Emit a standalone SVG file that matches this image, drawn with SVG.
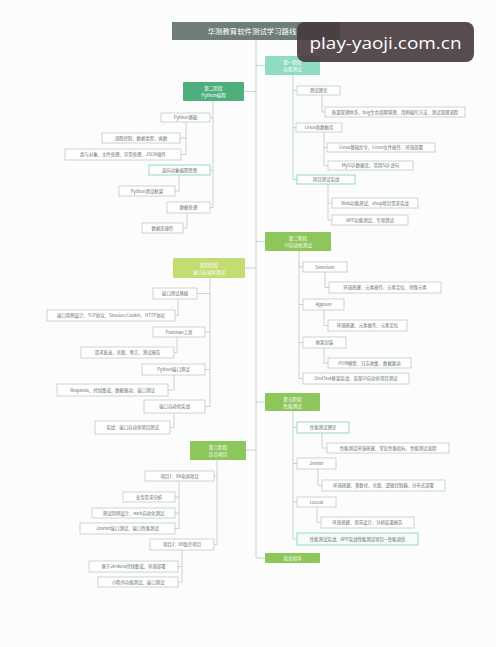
<svg xmlns="http://www.w3.org/2000/svg" width="496" height="647" viewBox="0 0 496 647">
<style>
.bg{fill:#fbfcfb}
.b{fill:#fdfefd;stroke:#bfcdbf;stroke-width:0.8}
.bt{fill:#fdfefd;stroke:#8fd3c4;stroke-width:0.9}
.t{font-family:"Noto Sans CJK SC","Noto Sans",sans-serif;font-size:4.4px;fill:#6a6f6c;text-anchor:middle}
.st{font-family:"Noto Sans CJK SC","Noto Sans",sans-serif;font-size:4.6px;fill:#ffffff;text-anchor:middle}
.l{fill:none;stroke:#bccbbd;stroke-width:0.8}
.lt{fill:none;stroke:#9fd8c9;stroke-width:0.8}
.g1{fill:#8fdcc2}
.g2{fill:#4daf7c}
.g3{fill:#8dc65a}
.g4{fill:#c3dd73}
</style>
<rect class="bg" x="0" y="0" width="496" height="647"/>

<g id="connectors">
<path class="l" d="M256,40 V558 H265"/>
<path class="lt" d="M256,65.5 H265"/>
<path class="lt" d="M293,75 V179.5 M293,90.5 H297 M293,127.5 H296 M293,179.5 H297"/>
<path class="l" d="M322,95 V112 H325"/>
<path class="l" d="M324,132 V165.5 M324,147.5 H327 M324,165.5 H328"/>
<path class="l" d="M328,184 V220 M328,203 H332 M328,220 H332"/>
<path class="l" d="M244,91.5 H256"/>
<path class="l" d="M213,101 V207.5 M210,117.5 H213 M210,170 H213 M210,207.5 H213"/>
<path class="l" d="M186,122 V154.5 M180,138 H186 M181,154.5 H186"/>
<path class="l" d="M179,175 V191 H175"/>
<path class="l" d="M187,213 V228 H183"/>
<path class="l" d="M256,241.5 H265"/>
<path class="l" d="M299,251 V378.5 M299,267 H303 M299,304.5 H303 M299,342.5 H303 M299,378.5 H303"/>
<path class="l" d="M325,272 V287.5 H329"/>
<path class="l" d="M324,310 V325.5 H328"/>
<path class="l" d="M324,348 V363 H328"/>
<path class="l" d="M245,268 H256"/>
<path class="l" d="M210,278 V406.5 M197,293.5 H210 M205,332 H210 M205,369.5 H210 M205,406.5 H210"/>
<path class="l" d="M178,299 V315.5 H175"/>
<path class="l" d="M177,337 V352.5 H174"/>
<path class="l" d="M174,375 V390 H168"/>
<path class="l" d="M174,413 V427.5 H170"/>
<path class="l" d="M256,402 H265"/>
<path class="l" d="M293,411 V539 M293,427.5 H297 M293,463.5 H297 M293,502 H297 M293,539 H297"/>
<path class="l" d="M322,433 V448 H327"/>
<path class="l" d="M318,469 V485.5 H322"/>
<path class="l" d="M317,507 V522.5 H321"/>
<path class="l" d="M246,450 H256"/>
<path class="l" d="M217,460 V544.5 M214,476 H217 M214,544.5 H217"/>
<path class="l" d="M179,481 V528.5 M175,497 H179 M175,513 H179 M175,528.5 H179"/>
<path class="l" d="M182,550 V582 M178,566.5 H182 M178,582 H182"/>
</g>

<g id="title">
<rect x="172" y="22" width="168" height="18" fill="#6e7d77"/>
<text x="252" y="33.6" font-family="Noto Sans CJK SC,sans-serif" font-size="7.4" fill="#ffffff" text-anchor="middle">华测教育软件测试学习路线</text>
</g>

<g id="stage1">
<rect class="g1" x="265" y="56" width="55" height="19" rx="1"/>
<text class="st" x="292.5" y="64">第一阶段</text><text class="st" x="292.5" y="71">功能测试</text>
</g>
<g id="s1-theory"><rect class="b" x="297" y="86" width="43" height="9"/><text class="t" x="318.5" y="92">测试理论</text></g>
<g id="s1-theory-1"><rect class="b" x="325" y="107" width="140" height="10"/><text class="t" x="395" y="113.6">质量管理体系、bug生命周期管理、用例编写方法、测试管理流程</text></g>
<g id="s1-linux"><rect class="b" x="296" y="123" width="46" height="9"/><text class="t" x="319" y="129">Linux和数据库</text></g>
<g id="s1-linux-1"><rect class="b" x="327" y="143" width="108" height="9"/><text class="t" x="381" y="149">Linux基础命令、Linux文件操作、环境部署</text></g>
<g id="s1-linux-2"><rect class="b" x="328" y="161" width="85" height="9"/><text class="t" x="370.5" y="167">MySQL数据库、常用SQL语句</text></g>
<g id="s1-project"><rect class="bt" x="297" y="175" width="58" height="9"/><text class="t" x="326" y="181">项目测试实战</text></g>
<g id="s1-project-1"><rect class="b" x="332" y="198" width="86" height="10"/><text class="t" x="375" y="204.6">Web功能测试、shop项目需求实战</text></g>
<g id="s1-project-2"><rect class="b" x="332" y="215" width="76" height="10"/><text class="t" x="370" y="221.6">APP功能测试、专项测试</text></g>

<g id="stage2">
<rect class="g2" x="183" y="82" width="61" height="19" rx="1"/>
<text class="st" x="213.5" y="90">第二阶段</text><text class="st" x="213.5" y="97">Python编程</text>
</g>
<g id="s2-basic"><rect class="b" x="161" y="113" width="49" height="9"/><text class="t" x="185.5" y="119">Python基础</text></g>
<g id="s2-basic-1"><rect class="b" x="102" y="133" width="78" height="10"/><text class="t" x="141" y="139.6">流程控制、数据类型、函数</text></g>
<g id="s2-basic-2"><rect class="b" x="65" y="149" width="116" height="11"/><text class="t" x="123" y="156.1">类与对象、文件处理、异常处理、JSON操作</text></g>
<g id="s2-oop"><rect class="bt" x="149" y="165" width="61" height="10"/><text class="t" x="179.5" y="171.6">面向对象编程思想</text></g>
<g id="s2-oop-1"><rect class="b" x="119" y="186" width="56" height="10"/><text class="t" x="147" y="192.6">Python测试框架</text></g>
<g id="s2-data"><rect class="b" x="167" y="202" width="43" height="11"/><text class="t" x="188.5" y="209.1">数据处理</text></g>
<g id="s2-data-1"><rect class="b" x="142" y="223" width="41" height="10"/><text class="t" x="162.5" y="229.6">数据库操作</text></g>

<g id="stage3">
<rect class="g3" x="265" y="232" width="66" height="19" rx="1"/>
<text class="st" x="298" y="240">第三阶段</text><text class="st" x="298" y="247">UI自动化测试</text>
</g>
<g id="s3-selenium"><rect class="b" x="303" y="262" width="44" height="10"/><text class="t" x="325" y="268.6">Selenium</text></g>
<g id="s3-selenium-1"><rect class="b" x="329" y="282" width="112" height="11"/><text class="t" x="385" y="289.1">环境搭建、元素操作、元素定位、特殊元素</text></g>
<g id="s3-appium"><rect class="b" x="303" y="299" width="41" height="11"/><text class="t" x="323.5" y="306.1">Appium</text></g>
<g id="s3-appium-1"><rect class="b" x="328" y="320" width="79" height="11"/><text class="t" x="367.5" y="327.1">环境搭建、元素操作、元素定位</text></g>
<g id="s3-frame"><rect class="b" x="303" y="337" width="43" height="11"/><text class="t" x="324.5" y="344.1">框架封装</text></g>
<g id="s3-frame-1"><rect class="b" x="328" y="358" width="83" height="10"/><text class="t" x="369.5" y="364.6">POM模型、日志收集、数据驱动</text></g>
<g id="s3-unittest"><rect class="b" x="303" y="373" width="106" height="11"/><text class="t" x="356" y="380.1">UnitTest框架实战、实现UI自动化项目测试</text></g>

<g id="stage4">
<rect class="g4" x="173" y="258" width="72" height="20" rx="1"/>
<text class="st" x="209" y="266.5">第四阶段</text><text class="st" x="209" y="273.5">接口自动化测试</text>
</g>
<g id="s4-basic"><rect class="b" x="153" y="288" width="44" height="11"/><text class="t" x="175" y="295.1">接口测试基础</text></g>
<g id="s4-basic-1"><rect class="b" x="47" y="310" width="128" height="11"/><text class="t" x="111" y="317.1">接口用例设计、TCP协议、Session/Cookie、HTTP协议</text></g>
<g id="s4-postman"><rect class="b" x="153" y="327" width="52" height="10"/><text class="t" x="179" y="333.6">Postman工具</text></g>
<g id="s4-postman-1"><rect class="b" x="81" y="347" width="93" height="11"/><text class="t" x="127.5" y="354.1">请求发送、关联、断言、测试报告</text></g>
<g id="s4-python"><rect class="b" x="142" y="364" width="63" height="11"/><text class="t" x="173.5" y="371.1">Python接口测试</text></g>
<g id="s4-python-1"><rect class="b" x="57" y="384" width="111" height="12"/><text class="t" x="112.5" y="391.6">Requests、持续集成、数据驱动、接口测试</text></g>
<g id="s4-practice"><rect class="b" x="144" y="400" width="61" height="13"/><text class="t" x="174.5" y="408.1">接口自动化实战</text></g>
<g id="s4-practice-1"><rect class="b" x="95" y="421" width="75" height="13"/><text class="t" x="132.5" y="429.1">实战：接口自动化项目测试</text></g>

<g id="stage5">
<rect class="g3" x="265" y="393" width="55" height="18" rx="1"/>
<text class="st" x="292.5" y="400.8">第五阶段</text><text class="st" x="292.5" y="407.6">性能测试</text>
</g>
<g id="s5-theory"><rect class="bt" x="297" y="422" width="52" height="11"/><text class="t" x="323" y="429.1">性能测试理论</text></g>
<g id="s5-theory-1"><rect class="b" x="327" y="443" width="122" height="10"/><text class="t" x="388" y="449.6">性能测试环境搭建、常见性能指标、性能测试流程</text></g>
<g id="s5-jmeter"><rect class="b" x="297" y="458" width="39" height="11"/><text class="t" x="316.5" y="465.1">Jmeter</text></g>
<g id="s5-jmeter-1"><rect class="b" x="322" y="480" width="123" height="11"/><text class="t" x="383.5" y="487.1">环境搭建、参数化、关联、逻辑控制器、分布式部署</text></g>
<g id="s5-locust"><rect class="b" x="297" y="497" width="39" height="10"/><text class="t" x="316.5" y="503.6">Locust</text></g>
<g id="s5-locust-1"><rect class="b" x="321" y="517" width="93" height="11"/><text class="t" x="367.5" y="524.1">环境搭建、场景设计、分析结果报告</text></g>
<g id="s5-practice"><rect class="bt" x="297" y="533" width="121" height="12" style="fill:#f4fbf8"/><text class="t" x="357.5" y="540.6">性能测试实战、APP实战性能测试项目—性能调优</text></g>

<g id="stage6">
<rect class="g3" x="190" y="441" width="56" height="19" rx="1"/>
<text class="st" x="218" y="449">第六阶段</text><text class="st" x="218" y="456">综合项目</text>
</g>
<g id="s6-p1"><rect class="b" x="145" y="471" width="69" height="10"/><text class="t" x="179.5" y="477.6">项目1：XX电商项目</text></g>
<g id="s6-p1-1"><rect class="b" x="123" y="492" width="52" height="10"/><text class="t" x="149" y="498.6">业务需求分析</text></g>
<g id="s6-p1-2"><rect class="b" x="92" y="508" width="83" height="10"/><text class="t" x="133.5" y="514.6">测试用例设计、web自动化测试</text></g>
<g id="s6-p1-3"><rect class="b" x="80" y="523" width="95" height="11"/><text class="t" x="127.5" y="530.1">Jmeter接口测试、接口性能测试</text></g>
<g id="s6-p2"><rect class="b" x="150" y="539" width="64" height="11"/><text class="t" x="182" y="546.1">项目2：XX医疗项目</text></g>
<g id="s6-p2-1"><rect class="b" x="89" y="561" width="89" height="11"/><text class="t" x="133.5" y="568.1">基于Jenkins持续集成、环境部署</text></g>
<g id="s6-p2-2"><rect class="b" x="98" y="577" width="80" height="10"/><text class="t" x="138" y="583.6">小程序功能测试、接口测试</text></g>

<g id="career">
<rect class="g3" x="265" y="553" width="55" height="10" rx="1"/>
<text class="st" x="292.5" y="559.6">就业指导</text>
</g>

<g id="watermark">
<rect x="297" y="22" width="177" height="40" rx="8" fill="#46393c" fill-opacity="0.9"/>
<text x="385.5" y="49" font-family="Open Sans,Noto Sans,sans-serif" font-size="17" fill="#ffffff" text-anchor="middle" textLength="152" lengthAdjust="spacingAndGlyphs">play-yaoji.com.cn</text>
</g>
</svg>
